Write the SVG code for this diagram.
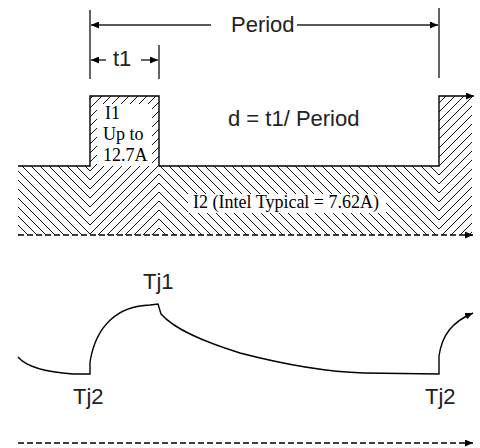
<svg xmlns="http://www.w3.org/2000/svg" width="480" height="448" viewBox="0 0 480 448">
<style>
.ln{fill:none;stroke:#000;stroke-width:1.4}
.dim{fill:none;stroke:#222;stroke-width:1.4}
.dash{fill:none;stroke:#000;stroke-width:1.3;stroke-dasharray:6 3}
.sans{font-family:"Liberation Sans",Arial,sans-serif;font-size:22px;fill:#222}
.serif{font-family:"Liberation Serif","Times New Roman",serif;font-size:18px;fill:#000}
.h{fill:none;stroke:#111;stroke-width:1;shape-rendering:crispEdges}
</style>
<defs>
<marker id="arr" viewBox="0 0 8 7" refX="8" refY="3.5" markerWidth="8" markerHeight="7" markerUnits="userSpaceOnUse" orient="auto-start-reverse">
<path d="M0,0 L8,3.5 L0,7 z" fill="#000"/>
</marker>
<pattern id="back0" x="0" y="0" width="9" height="9" patternUnits="userSpaceOnUse">
<path class="h" d="M-1,-1 L10,10 M-1,8 L1,10 M8,-1 L10,1"/>
</pattern>
<pattern id="back3" x="3" y="0" width="9" height="9" patternUnits="userSpaceOnUse">
<path class="h" d="M-1,-1 L10,10 M-1,8 L1,10 M8,-1 L10,1"/>
</pattern>
<pattern id="fwd0" x="0" y="0" width="9" height="9" patternUnits="userSpaceOnUse">
<path class="h" d="M-1,10 L10,-1 M-1,1 L1,-1 M8,10 L10,8"/>
</pattern>
<pattern id="fwd2" x="2" y="0" width="9" height="9" patternUnits="userSpaceOnUse">
<path class="h" d="M-1,10 L10,-1 M-1,1 L1,-1 M8,10 L10,8"/>
</pattern>
</defs>
<rect width="480" height="448" fill="#fff"/>

<g id="hatch">
<rect x="18" y="166" width="72" height="69" fill="url(#back0)"/>
<rect x="90" y="96" width="69" height="139" fill="url(#fwd0)"/>
<rect x="159" y="166" width="280" height="69" fill="url(#back3)"/>
<rect x="439" y="96" width="33" height="139" fill="url(#fwd2)"/>
<rect x="97" y="104" width="55" height="62" fill="#fff"/>
<rect x="188" y="194" width="198" height="19" fill="#fff"/>
</g>

<g id="connectors">
<line class="dim" x1="90" y1="10" x2="90" y2="79"/>
<line class="dim" x1="439" y1="8" x2="439" y2="78"/>
<line class="dim" x1="159" y1="45" x2="159" y2="79"/>
<line class="dim" x1="91" y1="25" x2="211" y2="25" marker-start="url(#arr)"/>
<line class="dim" x1="297" y1="25" x2="438" y2="25" marker-end="url(#arr)"/>
<line class="dim" x1="91" y1="60" x2="106" y2="60" marker-start="url(#arr)"/>
<line class="dim" x1="141" y1="60" x2="158" y2="60" marker-end="url(#arr)"/>
<path class="ln" d="M18,166 L90,166 L90,96 L159,96 L159,166 L439,166 L439,96 L474,96" marker-end="url(#arr)"/>
<path class="dash" d="M18,235 L473,235" marker-end="url(#arr)"/>
<path class="ln" d="M18,357 Q30,371 73,374 L90,374 L90,362 C96,325 118,306 150,305 L158,304 L161,314 C175,330 205,342 240,353 C290,366 330,372 364,373 L439,374 L439,356 C442,335 452,322 473,313" marker-end="url(#arr)"/>
<path class="dash" d="M18,443 L473,443" marker-end="url(#arr)"/>
</g>

<g id="labels">
<text class="sans" x="231" y="32">Period</text>
<text class="sans" x="113" y="66">t1</text>
<text class="sans" x="228" y="126">d = t1/ Period</text>
<text class="serif" x="105" y="119">I1</text>
<text class="serif" x="103" y="140">Up to</text>
<text class="serif" x="103" y="161">12.7A</text>
<text class="serif" x="193" y="208">I2 (Intel Typical = 7.62A)</text>
<text class="sans" x="143" y="289">Tj1</text>
<text class="sans" x="73" y="404">Tj2</text>
<text class="sans" x="425" y="404">Tj2</text>
</g>
</svg>
